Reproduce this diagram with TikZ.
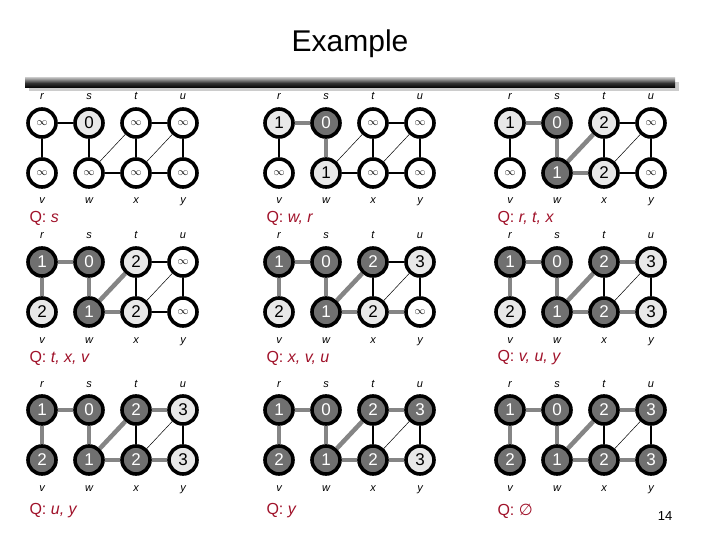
\documentclass[tikz,border=0pt]{standalone}
\usepackage{fontspec}
\setmainfont{Liberation Sans}
\newfontfamily\dejavu{DejaVu Sans}
\usetikzlibrary{calc}
\definecolor{qred}{HTML}{A0122A}
\definecolor{dk}{HTML}{707070}
\definecolor{lt}{HTML}{E8E8E8}
\definecolor{tree}{HTML}{858585}
\tikzset{
 vtx/.style={circle,draw=black,line width=3.6pt,minimum size=28pt,inner sep=0pt,font=\fontsize{17}{17}\selectfont},
 wn/.style={vtx,fill=white},
 gn/.style={vtx,fill=lt},
 bn/.style={vtx,fill=dk,text=white},
 lab/.style={font=\fontsize{11}{11}\selectfont\itshape,text height=8pt,text depth=2pt},
 qlab/.style={anchor=west,text=qred,font=\fontsize{16}{16}\selectfont},
 thin/.style={line width=0.5pt},
 thick1/.style={line width=1.2pt},
 tre/.style={line width=4.5pt,draw=tree},
}
\newcommand{\myinf}{{\fontsize{11}{11}\selectfont$\infty$}}
% #1 x, #2 y, #3 prefix, #4 style/text list, #5 tree edges, #6 Q, #7 Q y
\newcommand{\bfspanel}[7]{%
 \foreach \s/\t [count=\i from 0] in {#4}{%
   \pgfmathsetmacro\cx{#1+mod(\i,4)*47}%
   \pgfmathsetmacro\cy{#2+floor(\i/4)*50}%
   \node[\s] (#3-\i) at (\cx,\cy) {\t};
 }
 \foreach \l [count=\i from 0] in {r,s,t,u}{\node[lab] (#3-a\i) at ($(#3-\i)+(0,-26)$) {\l};}
 \foreach \l [count=\i from 4] in {v,w,x,y}{\node[lab] (#3-b\i) at ($(#3-\i)+(0,28)$) {\l};}
 \foreach \a/\b in {0/1,0/4,1/5,2/3,2/6,3/7,5/6,6/7}{\draw[thick1] (#3-\a) -- (#3-\b);}
 \foreach \a/\b in {5/2,6/3}{\draw[thin] (#3-\a) -- (#3-\b);}
 \foreach \a/\b in {#5}{\draw[tre] (#3-\a) -- (#3-\b);}
 \node[qlab] (#3-q) at (#1-16,#7) {#6};
}
\begin{document}
\begin{tikzpicture}[x=1pt,y=-1pt]
\useasboundingbox (0,0) rectangle (720,540);
\node[font=\fontsize{30}{30}\selectfont] (title) at (350,44) {Example};
\fill[gray!40] (29,82) rectangle (679,91);
\shade[top color=gray!60,bottom color=black,middle color=black!80] (25,78) rectangle (675,88);
\bfspanel{42}{123}{a}{wn/\myinf,gn/0,wn/\myinf,wn/\myinf,wn/\myinf,wn/\myinf,wn/\myinf,wn/\myinf}{}{Q: \textit{s}}{218}
\bfspanel{279}{123}{b}{gn/1,bn/0,wn/\myinf,wn/\myinf,wn/\myinf,gn/1,wn/\myinf,wn/\myinf}{0/1,1/5}{Q: \textit{w, r}}{218}
\bfspanel{510}{123}{c}{gn/1,bn/0,gn/2,wn/\myinf,wn/\myinf,bn/1,gn/2,wn/\myinf}{0/1,1/5,5/2,5/6}{Q: \textit{r, t, x}}{218}
\bfspanel{42}{262}{d}{bn/1,bn/0,gn/2,wn/\myinf,gn/2,bn/1,gn/2,wn/\myinf}{0/1,1/5,5/2,5/6,0/4}{Q: \textit{t, x, v}}{358}
\bfspanel{279}{262}{e}{bn/1,bn/0,bn/2,gn/3,gn/2,bn/1,gn/2,wn/\myinf}{0/1,1/5,5/2,5/6,0/4,6/7}{Q: \textit{x, v, u}}{358}
\bfspanel{510}{262}{f}{bn/1,bn/0,bn/2,gn/3,gn/2,bn/1,bn/2,gn/3}{0/1,1/5,5/2,5/6,0/4,2/3,6/7}{Q: \textit{v, u, y}}{358}
\bfspanel{42}{410}{g}{bn/1,bn/0,bn/2,gn/3,bn/2,bn/1,bn/2,gn/3}{0/1,1/5,5/2,5/6,0/4,2/3,6/7}{Q: \textit{u, y}}{511}
\bfspanel{279}{410}{h}{bn/1,bn/0,bn/2,bn/3,bn/2,bn/1,bn/2,gn/3}{0/1,1/5,5/2,5/6,0/4,2/3,6/7}{Q: \textit{y}}{511}
\bfspanel{510}{410}{i}{bn/1,bn/0,bn/2,bn/3,bn/2,bn/1,bn/2,bn/3}{0/1,1/5,5/2,5/6,0/4,2/3,6/7}{Q: {\dejavu ∅}}{511}
\node[font=\fontsize{13}{13}\selectfont] (page) at (665,516) {14};
\end{tikzpicture}
\end{document}
